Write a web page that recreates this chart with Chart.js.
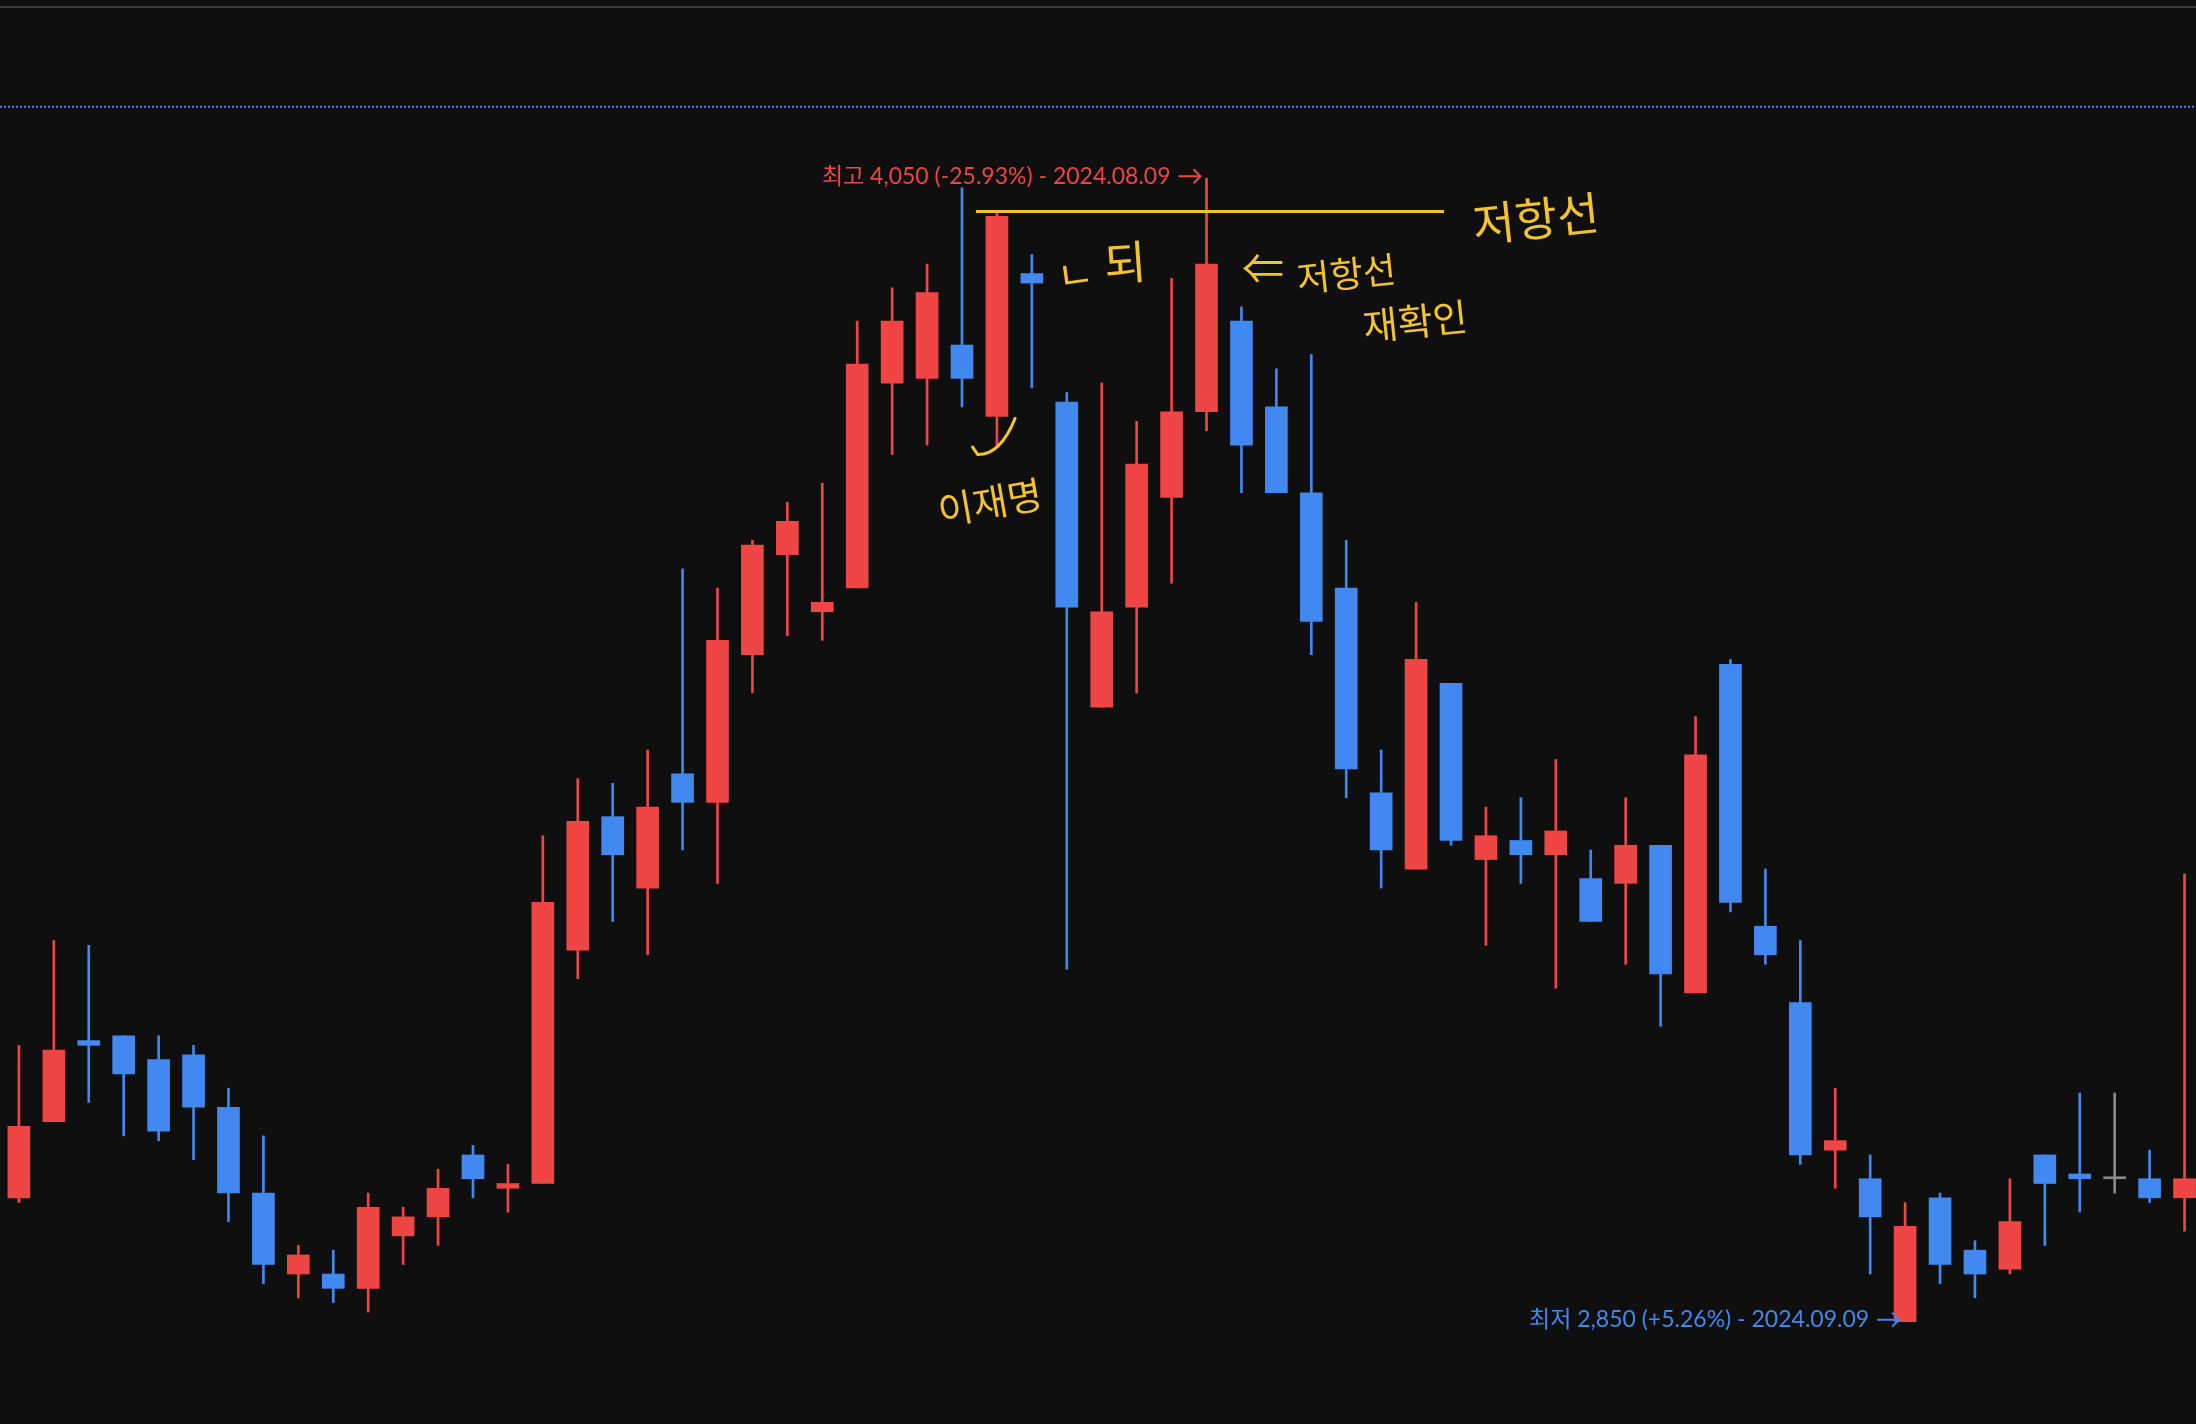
<!DOCTYPE html>
<html lang="ko">
<head>
<meta charset="utf-8">
<title>일봉 차트</title>
<script src="https://cdn.jsdelivr.net/npm/chart.js@4.4.1/dist/chart.umd.min.js"></script>
<style>
  html, body { margin: 0; padding: 0; background: #0f0f0f; overflow: hidden; }
  #wrap { width: 2196px; height: 1424px; }
</style>
</head>
<body>
<div id="wrap"><canvas id="candles" width="2196" height="1424"></canvas></div>
<script>
// daily candles (KRW)
const opens  = [2980,3060,3145,3150,3125,3130,3075,2985,2900,2900,2885,2940,2960,3025,2990,2995,
                3240,3380,3305,3425,3395,3550,3655,3595,3620,3835,3840,3875,3800,3950,3815,3495,
                3600,3715,3805,3900,3810,3720,3620,3405,3325,3520,3335,3355,3340,3315,3310,3350,
                3195,3540,3265,3185,3030,3000,2850,2980,2925,2905,3025,3005,3000,3000,2980];
const highs  = [3140,3250,3245,3150,3150,3140,3095,3045,2930,2925,2985,2970,3010,3035,3015,3360,
                3420,3415,3450,3640,3620,3670,3710,3730,3900,3935,3960,4040,4015,3970,3825,3835,
                3795,3945,4050,3915,3850,3865,3670,3450,3605,3520,3390,3400,3440,3345,3400,3350,
                3485,3545,3325,3250,3095,3025,2975,2985,2935,3000,3025,3090,3090,3030,3320];
const lows   = [2975,3060,3080,3045,3040,3020,2955,2890,2875,2870,2860,2910,2930,2980,2965,2995,
                3210,3270,3235,3345,3310,3510,3570,3565,3620,3760,3770,3810,3770,3830,3220,3495,
                3510,3625,3785,3720,3720,3550,3400,3305,3325,3350,3245,3310,3200,3270,3225,3160,
                3195,3280,3225,3015,2990,2900,2850,2890,2875,2900,2930,2965,2985,2975,2945];
const closes = [3055,3135,3140,3110,3050,3075,2985,2910,2920,2885,2970,2960,2990,3000,2995,3290,
                3375,3340,3390,3395,3565,3665,3690,3605,3855,3900,3930,3840,4010,3940,3600,3595,
                3750,3805,3960,3770,3720,3585,3430,3345,3545,3355,3360,3340,3365,3270,3350,3215,
                3445,3290,3235,3025,3040,2960,2950,2910,2900,2955,2995,3000,3000,2980,3000];

const highLabel = "최고 4,050 (-25.93%) - 2024.08.09";
const lowLabel  = "최저 2,850 (+5.26%) - 2024.09.09";
const highIdx = 34, lowIdx = 54;
const avgPrice = 4125;       // dotted blue line
const resistPrice = 4015;    // hand drawn resistance line
const resistFrom = 27.4, resistTo = 40.8;

const UP = "#F04545", DOWN = "#4189F0", FLAT = "#8a8a8a", NOTE = "#F2C230";

const idx = opens.map((_, i) => i);
const colors = idx.map(i => closes[i] > opens[i] ? UP : (closes[i] < opens[i] ? DOWN : FLAT));

// hand written notes: [text, candle position, price, font px, rotation deg]
const notes = [
  ["저항선", 43.43, 4008, 46, -6],
  ["ㄴ", 30.24, 3950, 40, -8],
  ["되", 31.67, 3962, 46, -4],
  ["⇐", 35.62, 3956, 42, 0],
  ["저항선", 38.0, 3950, 36, -6],
  ["재확인", 39.97, 3900, 38, -6],
  ["이재명", 27.8, 3710, 38, -10]
];
// little hook drawn under the long red candle
const hook = [[28.52, 3798], [28.1, 3768], [27.45, 3760], [27.3, 3768]];

const XMIN = -0.541, XMAX = 62.328, YMIN = 2742.6, YMAX = 4237.1;

// label text followed by a drawn arrow pointing at the candle
function arrowLabel(ctx, text, tipX, cy, color) {
  ctx.fillStyle = color;
  ctx.strokeStyle = color;
  ctx.lineWidth = 2;
  ctx.fillText(text, tipX - 30, cy);
  ctx.beginPath();
  ctx.moveTo(tipX - 22, cy);
  ctx.lineTo(tipX, cy);
  ctx.moveTo(tipX - 7, cy - 7);
  ctx.lineTo(tipX, cy);
  ctx.lineTo(tipX - 7, cy + 7);
  ctx.stroke();
}

const overlay = {
  id: "overlay",
  beforeDraw(chart) {
    const ctx = chart.ctx;
    ctx.save();
    ctx.fillStyle = "#0f0f0f";
    ctx.fillRect(0, 0, chart.width, chart.height);
    ctx.fillStyle = "#3a3a3a";
    ctx.fillRect(0, 6, chart.width, 2);
    ctx.restore();
  },
  afterDatasetsDraw(chart) {
    const ctx = chart.ctx, x = chart.scales.x, y = chart.scales.y;
    ctx.save();
    // high / low labels
    ctx.font = '23px Lato, "Noto Sans CJK KR", sans-serif';
    ctx.textAlign = "right";
    ctx.textBaseline = "middle";
    arrowLabel(ctx, highLabel, x.getPixelForValue(highIdx) - 6, y.getPixelForValue(highs[highIdx]) - 2, UP);
    arrowLabel(ctx, lowLabel, x.getPixelForValue(lowIdx) - 6, y.getPixelForValue(lows[lowIdx]) - 2, DOWN);

    // hand notes
    ctx.fillStyle = NOTE;
    ctx.textAlign = "center";
    notes.forEach(n => {
      ctx.save();
      ctx.translate(x.getPixelForValue(n[1]), y.getPixelForValue(n[2]));
      ctx.rotate(n[4] * Math.PI / 180);
      ctx.font = n[3] + 'px "Noto Sans CJK KR", sans-serif';
      ctx.fillText(n[0], 0, 0);
      ctx.restore();
    });

    ctx.strokeStyle = NOTE;
    ctx.lineWidth = 3;
    ctx.lineCap = "round";
    const p = hook.map(h => [x.getPixelForValue(h[0]), y.getPixelForValue(h[1])]);
    ctx.beginPath();
    ctx.moveTo(p[0][0], p[0][1]);
    ctx.quadraticCurveTo(p[1][0], p[1][1] + 8, p[2][0], p[2][1]);
    ctx.lineTo(p[3][0], p[3][1]);
    ctx.stroke();
    ctx.restore();
  }
};

new Chart(document.getElementById("candles").getContext("2d"), {
  type: "bar",
  data: {
    datasets: [
      {
        type: "line",
        order: 0,
        data: [{x: resistFrom, y: resistPrice}, {x: resistTo, y: resistPrice}],
        borderColor: NOTE,
        borderWidth: 3,
        pointRadius: 0
      },
      {
        type: "line",
        order: 0,
        data: [{x: XMIN, y: avgPrice}, {x: XMAX, y: avgPrice}],
        borderColor: DOWN,
        borderWidth: 2,
        borderDash: [2, 2],
        pointRadius: 0
      },
      {
        // bodies
        order: 1,
        stack: "c",
        data: idx.map(i => ({x: i, y: [opens[i], closes[i]]})),
        backgroundColor: colors,
        barThickness: 22,
        minBarLength: 2,
        borderWidth: 0
      },
      {
        // wicks
        order: 2,
        stack: "c",
        data: idx.map(i => ({x: i, y: [lows[i], highs[i]]})),
        backgroundColor: colors,
        barThickness: 2,
        borderWidth: 0
      }
    ]
  },
  options: {
    responsive: false,
    animation: false,
    events: [],
    layout: { padding: 0 },
    plugins: { legend: { display: false }, tooltip: { enabled: false } },
    scales: {
      x: { type: "linear", min: XMIN, max: XMAX, offset: false, stacked: true, display: false },
      y: { type: "linear", min: YMIN, max: YMAX, stacked: false, display: false }
    }
  },
  plugins: [overlay]
});
</script>
</body>
</html>
